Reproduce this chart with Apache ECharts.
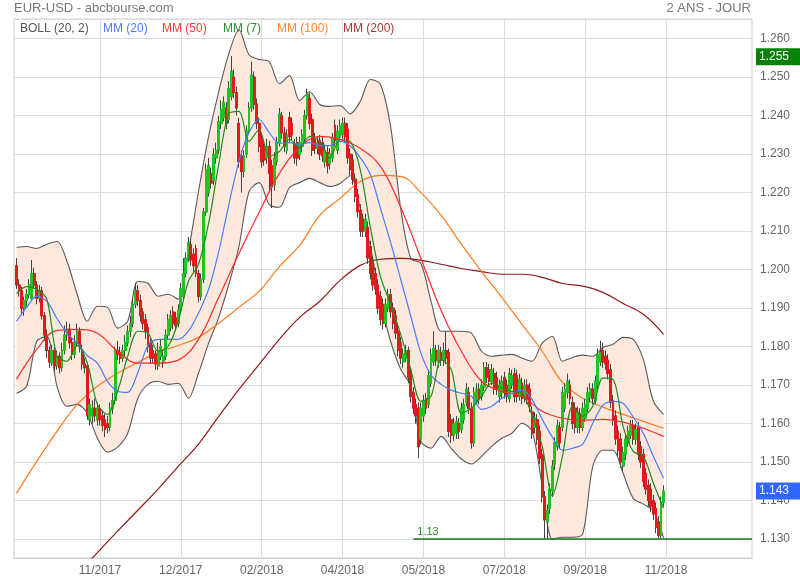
<!DOCTYPE html>
<html><head><meta charset="utf-8">
<script src="https://cdn.jsdelivr.net/npm/echarts@6/dist/echarts.min.js"></script>
<style>html,body{margin:0;padding:0;background:#fff}#c{width:800px;height:580px}</style>
</head><body><div id="c"></div>
<script>
// ---------- DATA ----------
const tickIdx = [34, 66, 98, 130, 162, 194, 226, 258];
const tickLabels = ['11/2017', '12/2017', '02/2018', '04/2018', '05/2018', '07/2018', '09/2018', '11/2018'];
const nSlots = 293;
const candleOffset = 1;

// [open, close, low, high]
const candles = [
[1.2010,1.1960,1.1950,1.2030],[1.1960,1.1945,1.1930,1.1975],[1.1945,1.1900,1.1885,1.1955],[1.1900,1.1920,1.1880,1.1930],
[1.1920,1.1935,1.1905,1.1950],[1.1935,1.1960,1.1925,1.1975],[1.1925,1.1990,1.1920,1.2025],[1.1990,1.1960,1.1950,1.2005],
[1.1960,1.1925,1.1910,1.1970],[1.1925,1.1945,1.1915,1.1960],[1.1945,1.1880,1.1870,1.1955],[1.1880,1.1830,1.1815,1.1890],
[1.1830,1.1790,1.1770,1.1845],[1.1790,1.1760,1.1745,1.1800],[1.1760,1.1790,1.1750,1.1805],[1.1790,1.1750,1.1735,1.1800],
[1.1750,1.1775,1.1740,1.1790],[1.1775,1.1745,1.1730,1.1785],[1.1745,1.1790,1.1735,1.1810],[1.1790,1.1830,1.1780,1.1855],
[1.1830,1.1845,1.1815,1.1865],[1.1845,1.1810,1.1795,1.1860],[1.1810,1.1780,1.1765,1.1825],[1.1780,1.1810,1.1770,1.1830],
[1.1810,1.1840,1.1800,1.1860],[1.1840,1.1800,1.1785,1.1850],[1.1790,1.1755,1.1740,1.1805],[1.1755,1.1745,1.1730,1.1770],
[1.1750,1.1620,1.1610,1.1760],[1.1610,1.1650,1.1595,1.1665],[1.1620,1.1640,1.1600,1.1660],[1.1640,1.1620,1.1605,1.1665],
[1.1610,1.1640,1.1595,1.1655],[1.1640,1.1610,1.1595,1.1650],[1.1620,1.1595,1.1580,1.1635],[1.1610,1.1585,1.1565,1.1625],
[1.1600,1.1590,1.1575,1.1620],[1.1590,1.1640,1.1580,1.1655],[1.1640,1.1660,1.1625,1.1680],[1.1660,1.1790,1.1650,1.1800],
[1.1790,1.1780,1.1765,1.1815],[1.1785,1.1770,1.1755,1.1800],[1.1770,1.1790,1.1760,1.1805],[1.1790,1.1810,1.1775,1.1830],
[1.1810,1.1840,1.1800,1.1855],[1.1840,1.1860,1.1825,1.1880],[1.1860,1.1910,1.1850,1.1925],[1.1910,1.1945,1.1900,1.1965],
[1.1945,1.1920,1.1905,1.1960],[1.1920,1.1880,1.1865,1.1935],[1.1890,1.1860,1.1845,1.1900],[1.1870,1.1840,1.1820,1.1885],
[1.1850,1.1800,1.1785,1.1860],[1.1810,1.1770,1.1755,1.1820],[1.1790,1.1770,1.1755,1.1805],[1.1780,1.1755,1.1740,1.1790],
[1.1750,1.1790,1.1740,1.1810],[1.1775,1.1800,1.1765,1.1820],[1.1760,1.1775,1.1745,1.1790],[1.1775,1.1830,1.1765,1.1845],
[1.1830,1.1870,1.1820,1.1885],[1.1850,1.1880,1.1840,1.1895],[1.1890,1.1860,1.1845,1.1905],[1.1875,1.1855,1.1840,1.1890],
[1.1860,1.1895,1.1850,1.1910],[1.1895,1.1950,1.1885,1.1965],[1.1930,1.1990,1.1920,1.2030],[1.1990,1.2030,1.1980,1.2045],
[1.2030,1.2070,1.2020,1.2085],[1.2065,1.2025,1.2010,1.2080],[1.2040,1.2010,1.1995,1.2055],[1.2055,1.1990,1.1980,1.2065],
[1.1990,1.1930,1.1915,1.2000],[1.1930,1.1975,1.1920,1.1990],[1.1975,1.2150,1.1965,1.2160],[1.2150,1.2260,1.2140,1.2275],
[1.2200,1.2270,1.2190,1.2290],[1.2250,1.2225,1.2210,1.2265],[1.2230,1.2300,1.2220,1.2315],[1.2290,1.2310,1.2275,1.2330],
[1.2310,1.2385,1.2300,1.2400],[1.2380,1.2415,1.2365,1.2440],[1.2395,1.2435,1.2385,1.2450],[1.2420,1.2380,1.2365,1.2435],
[1.2390,1.2470,1.2380,1.2490],[1.2450,1.2515,1.2440,1.2555],[1.2500,1.2460,1.2445,1.2520],[1.2460,1.2420,1.2400,1.2475],
[1.2380,1.2280,1.2265,1.2395],[1.2295,1.2255,1.2200,1.2310],[1.2255,1.2295,1.2240,1.2310],[1.2300,1.2360,1.2290,1.2375],
[1.2360,1.2420,1.2350,1.2435],[1.2420,1.2505,1.2410,1.2540],[1.2500,1.2430,1.2415,1.2515],[1.2430,1.2380,1.2365,1.2445],
[1.2380,1.2320,1.2305,1.2395],[1.2340,1.2280,1.2265,1.2355],[1.2320,1.2285,1.2270,1.2335],[1.2290,1.2320,1.2275,1.2340],
[1.2320,1.2250,1.2200,1.2335],[1.2270,1.2215,1.2160,1.2285],[1.2220,1.2290,1.2205,1.2305],[1.2280,1.2330,1.2270,1.2345],
[1.2330,1.2405,1.2320,1.2420],[1.2400,1.2355,1.2340,1.2410],[1.2355,1.2320,1.2305,1.2370],[1.2310,1.2350,1.2300,1.2365],
[1.2395,1.2345,1.2330,1.2410],[1.2380,1.2350,1.2335,1.2395],[1.2325,1.2290,1.2275,1.2340],[1.2330,1.2290,1.2270,1.2345],
[1.2300,1.2330,1.2285,1.2345],[1.2320,1.2350,1.2305,1.2365],[1.2340,1.2400,1.2330,1.2415],[1.2400,1.2455,1.2390,1.2470],
[1.2445,1.2380,1.2365,1.2460],[1.2390,1.2310,1.2295,1.2405],[1.2340,1.2315,1.2300,1.2355],[1.2315,1.2330,1.2300,1.2345],
[1.2335,1.2300,1.2285,1.2350],[1.2330,1.2295,1.2280,1.2345],[1.2280,1.2310,1.2265,1.2325],[1.2305,1.2270,1.2250,1.2320],
[1.2275,1.2300,1.2260,1.2315],[1.2290,1.2340,1.2280,1.2355],[1.2375,1.2335,1.2320,1.2390],[1.2310,1.2360,1.2300,1.2375],
[1.2345,1.2375,1.2335,1.2390],[1.2350,1.2380,1.2340,1.2395],[1.2380,1.2345,1.2330,1.2395],[1.2365,1.2290,1.2275,1.2380],
[1.2300,1.2260,1.2245,1.2315],[1.2285,1.2235,1.2220,1.2300],[1.2235,1.2190,1.2175,1.2250],[1.2195,1.2150,1.2135,1.2210],
[1.2155,1.2100,1.2085,1.2170],[1.2130,1.2100,1.2085,1.2145],[1.2100,1.2130,1.2085,1.2145],[1.2110,1.2030,1.2015,1.2125],
[1.2060,1.1990,1.1975,1.2075],[1.2020,1.1960,1.1945,1.2035],[1.1990,1.1950,1.1935,1.2005],[1.1960,1.1900,1.1885,1.1975],
[1.1930,1.1870,1.1855,1.1945],[1.1910,1.1860,1.1845,1.1925],[1.1860,1.1910,1.1850,1.1925],[1.1900,1.1935,1.1890,1.1950],
[1.1935,1.1890,1.1875,1.1950],[1.1900,1.1860,1.1845,1.1915],[1.1880,1.1835,1.1820,1.1895],[1.1840,1.1790,1.1775,1.1855],
[1.1810,1.1770,1.1755,1.1825],[1.1760,1.1780,1.1745,1.1795],[1.1770,1.1790,1.1760,1.1805],[1.1790,1.1720,1.1705,1.1800],
[1.1730,1.1670,1.1655,1.1745],[1.1680,1.1640,1.1625,1.1695],[1.1650,1.1620,1.1600,1.1665],[1.1640,1.1540,1.1510,1.1655],
[1.1560,1.1640,1.1545,1.1655],[1.1620,1.1660,1.1605,1.1675],[1.1665,1.1640,1.1625,1.1680],[1.1650,1.1725,1.1640,1.1740],
[1.1705,1.1780,1.1695,1.1795],[1.1760,1.1795,1.1750,1.1840],[1.1790,1.1765,1.1750,1.1805],[1.1760,1.1790,1.1745,1.1805],
[1.1785,1.1765,1.1750,1.1800],[1.1765,1.1790,1.1750,1.1810],[1.1790,1.1770,1.1755,1.1840],[1.1785,1.1580,1.1565,1.1795],
[1.1610,1.1570,1.1550,1.1625],[1.1570,1.1600,1.1555,1.1615],[1.1575,1.1605,1.1560,1.1620],[1.1600,1.1580,1.1560,1.1615],
[1.1585,1.1640,1.1575,1.1655],[1.1610,1.1650,1.1600,1.1665],[1.1655,1.1690,1.1645,1.1705],[1.1680,1.1640,1.1625,1.1695],
[1.1640,1.1550,1.1535,1.1655],[1.1550,1.1680,1.1540,1.1695],[1.1660,1.1690,1.1650,1.1705],[1.1690,1.1665,1.1650,1.1705],
[1.1670,1.1700,1.1660,1.1715],[1.1695,1.1745,1.1685,1.1760],[1.1745,1.1720,1.1705,1.1760],[1.1740,1.1710,1.1695,1.1755],
[1.1710,1.1740,1.1700,1.1755],[1.1730,1.1690,1.1675,1.1745],[1.1720,1.1690,1.1675,1.1735],[1.1670,1.1700,1.1655,1.1715],
[1.1680,1.1710,1.1665,1.1725],[1.1720,1.1680,1.1665,1.1735],[1.1700,1.1670,1.1655,1.1715],[1.1665,1.1730,1.1655,1.1745],
[1.1700,1.1725,1.1690,1.1740],[1.1730,1.1670,1.1655,1.1745],[1.1725,1.1670,1.1655,1.1740],[1.1670,1.1715,1.1660,1.1730],
[1.1705,1.1665,1.1650,1.1720],[1.1665,1.1700,1.1655,1.1715],[1.1700,1.1665,1.1650,1.1715],[1.1690,1.1645,1.1630,1.1705],
[1.1630,1.1575,1.1560,1.1645],[1.1590,1.1615,1.1575,1.1630],[1.1610,1.1560,1.1545,1.1625],[1.1580,1.1510,1.1495,1.1595],
[1.1520,1.1410,1.1395,1.1535],[1.1410,1.1350,1.1300,1.1425],[1.1345,1.1375,1.1300,1.1390],[1.1380,1.1430,1.1365,1.1445],
[1.1425,1.1490,1.1410,1.1505],[1.1495,1.1550,1.1480,1.1565],[1.1540,1.1595,1.1530,1.1610],[1.1590,1.1550,1.1535,1.1605],
[1.1590,1.1680,1.1580,1.1695],[1.1640,1.1690,1.1630,1.1705],[1.1680,1.1710,1.1665,1.1730],[1.1700,1.1665,1.1650,1.1715],
[1.1655,1.1600,1.1585,1.1670],[1.1640,1.1590,1.1575,1.1655],[1.1590,1.1630,1.1575,1.1645],[1.1625,1.1590,1.1575,1.1640],
[1.1590,1.1640,1.1580,1.1655],[1.1615,1.1650,1.1605,1.1665],[1.1640,1.1680,1.1630,1.1695],[1.1670,1.1690,1.1655,1.1705],
[1.1690,1.1665,1.1650,1.1705],[1.1660,1.1710,1.1650,1.1725],[1.1700,1.1780,1.1690,1.1795],[1.1760,1.1785,1.1750,1.1815],
[1.1790,1.1760,1.1745,1.1810],[1.1775,1.1755,1.1740,1.1790],[1.1765,1.1730,1.1715,1.1780],[1.1740,1.1655,1.1640,1.1755],
[1.1660,1.1610,1.1595,1.1675],[1.1620,1.1560,1.1545,1.1635],[1.1580,1.1530,1.1515,1.1595],[1.1560,1.1500,1.1485,1.1575],
[1.1490,1.1525,1.1475,1.1540],[1.1520,1.1560,1.1505,1.1575],[1.1550,1.1580,1.1540,1.1595],[1.1570,1.1595,1.1560,1.1610],
[1.1595,1.1560,1.1545,1.1610],[1.1560,1.1585,1.1545,1.1600],[1.1590,1.1520,1.1505,1.1605],[1.1540,1.1500,1.1485,1.1555],
[1.1520,1.1450,1.1435,1.1535],[1.1470,1.1430,1.1415,1.1485],[1.1440,1.1400,1.1385,1.1455],[1.1430,1.1385,1.1370,1.1445],
[1.1400,1.1365,1.1350,1.1415],[1.1380,1.1330,1.1315,1.1395],[1.1345,1.1310,1.1302,1.1360],[1.1310,1.1395,1.1302,1.1410],
[1.1395,1.1425,1.1385,1.1440]
];

// indicator lines, sampled every 4 candles (step 4) or every 8 candles (step 8)
const ma7 = [1.1938,1.1956,1.1949,1.1923,1.1775,1.1762,1.1803,1.1757,1.1650,1.1624,
1.1684,1.1775,1.1840,1.1835,1.1788,1.1801,1.1866,1.1969,1.2014,1.2120,
1.2273,1.2405,1.2411,1.2333,1.2364,1.2294,1.2307,1.2338,1.2317,1.2346,
1.2333,1.2289,1.2338,1.2333,1.2260,1.2110,1.1982,1.1910,1.1832,1.1741,
1.1658,1.1671,1.1767,1.1741,1.1627,1.1640,1.1671,1.1705,1.1692,1.1684,
1.1679,1.1622,1.1541,1.1412,1.1515,1.1645,1.1619,1.1645,1.1718,1.1715,
1.1593,1.1528,1.1515,1.1445,1.1380];
const ma20 = [1.1866,1.1902,1.1931,1.1918,1.1873,1.1835,1.1809,1.1777,1.1757,1.1710,
1.1684,1.1681,1.1733,1.1803,1.1819,1.1819,1.1819,1.1840,1.1887,1.1949,
1.2047,1.2169,1.2281,1.2356,1.2390,1.2356,1.2328,1.2330,1.2325,1.2330,
1.2322,1.2322,1.2333,1.2322,1.2291,1.2247,1.2159,1.2071,1.1975,1.1879,
1.1783,1.1726,1.1702,1.1687,1.1679,1.1671,1.1637,1.1645,1.1666,1.1679,
1.1687,1.1663,1.1611,1.1565,1.1531,1.1536,1.1547,1.1601,1.1648,1.1658,
1.1653,1.1617,1.1575,1.1515,1.1458];
const bollUp = [1.2058,1.2060,1.2055,1.2066,1.2073,1.2021,1.1936,1.1866,1.1905,1.1902,
1.1848,1.1866,1.1969,1.1964,1.1931,1.1936,1.1923,1.2047,1.2203,1.2346,
1.2462,1.2561,1.2623,1.2558,1.2546,1.2540,1.2483,1.2504,1.2439,1.2462,
1.2429,1.2424,1.2426,1.2405,1.2437,1.2494,1.2481,1.2372,1.2159,1.2029,
1.2016,1.1918,1.1840,1.1840,1.1840,1.1835,1.1788,1.1775,1.1778,1.1780,
1.1770,1.1762,1.1809,1.1827,1.1762,1.1772,1.1778,1.1775,1.1798,1.1806,
1.1824,1.1819,1.1767,1.1658,1.1624];
const bollLow = [1.1679,1.1697,1.1814,1.1827,1.1697,1.1645,1.1650,1.1627,1.1562,1.1526,
1.1539,1.1575,1.1666,1.1702,1.1710,1.1702,1.1705,1.1666,1.1731,1.1809,
1.1876,1.1962,1.2060,1.2203,1.2226,1.2169,1.2162,1.2213,1.2226,1.2237,
1.2226,1.2216,1.2224,1.2244,1.2159,1.2060,1.1918,1.1814,1.1741,1.1697,
1.1554,1.1536,1.1567,1.1536,1.1508,1.1495,1.1515,1.1541,1.1562,1.1575,
1.1601,1.1580,1.1438,1.1300,1.1305,1.1305,1.1313,1.1489,1.1531,1.1531,
1.1471,1.1406,1.1391,1.1373,1.1303];
const ma50 = [1.1715,1.1793,1.1842,1.1845,1.1835,1.1788,1.1757,1.1757,1.1765,1.1819,
1.1928,1.2042,1.2149,1.2250,1.2317,1.2346,1.2338,1.2315,1.2268,1.2162,
1.2029,1.1894,1.1788,1.1710,1.1684,1.1671,1.1632,1.1614,1.1609,1.1611,
1.1604,1.1588,1.1567];
const ma100 = [1.1419,1.1502,1.1580,1.1650,1.1697,1.1731,1.1759,1.1785,1.1803,1.1824,
1.1861,1.1902,1.1944,1.2008,1.2063,1.2141,1.2185,1.2229,1.2245,1.2242,
1.2200,1.2141,1.2066,1.1995,1.1928,1.1858,1.1788,1.1707,1.1666,1.1643,
1.1624,1.1606,1.1588];
const ma200 = [null,null,null,1.1209,1.1265,1.1321,1.1375,1.1430,1.1489,1.1547,
1.1619,1.1689,1.1754,1.1819,1.1876,1.1918,1.1972,1.2011,1.2027,1.2029,
1.2024,1.2014,1.2003,1.1995,1.1988,1.1988,1.1980,1.1964,1.1957,1.1941,
1.1912,1.1884,1.1832];

const supportLevel = 1.13;
const supportStart = 158;
const highMark = 1.2553;
const lastMark = 1.1425;

// ---------- BUILD ----------
const categories = Array.from({length: nSlots}, (_, i) => {
  const k = tickIdx.indexOf(i);
  return k >= 0 ? tickLabels[k] : String(i);
});
const isTick = (i) => tickIdx.indexOf(i) >= 0;
function spread(arr, step) {
  const out = [];
  arr.forEach((v, k) => { if (v != null) out.push([k * step + candleOffset, v]); });
  return out;
}
const wickData = candles.map((c, i) => [i + candleOffset, c[0], c[1], c[2], c[3]]);
const bodyData = candles.map((c, i) => [i + candleOffset, c[0], c[1], Math.min(c[0], c[1]), Math.max(c[0], c[1])]);
const bandDiff = bollUp.map((u, k) => +(u - bollLow[k]).toFixed(5));

const FONT = '"Liberation Sans", Arial, sans-serif';
const UP = '#1fc41f', DOWN = '#e01b1b';

function lineSeries(name, data, color, z, smooth, width) {
  return {
    name, type: 'line', data, showSymbol: false, symbol: 'none', smooth: smooth,
    lineStyle: {color, width: width || 1.2}, z, silent: true, animation: false
  };
}

const option = {
  animation: false,
  backgroundColor: '#fff',
  grid: {left: 14, right: 48, top: 19, bottom: 22, show: true, borderColor: '#cfcfcf', borderWidth: 1, containLabel: false},
  xAxis: {
    type: 'category', data: categories, boundaryGap: false,
    axisLine: {show: true, lineStyle: {color: '#cfcfcf'}},
    axisTick: {show: false},
    axisLabel: {interval: (i) => isTick(i), color: '#666', fontSize: 12, fontFamily: FONT, margin: 7},
    splitLine: {show: true, interval: (i) => isTick(i), lineStyle: {color: '#dcdcdc', width: 1}}
  },
  yAxis: {
    type: 'value', position: 'right', min: 1.1251, max: 1.2651,
    splitNumber: 14, minInterval: 0.01, maxInterval: 0.01, scale: true,
    axisLine: {show: false}, axisTick: {show: false},
    axisLabel: {color: '#666', fontSize: 12, fontFamily: FONT, margin: 8, padding: [0, 0, 6, 0],
      showMinLabel: false, showMaxLabel: false, formatter: (v) => v.toFixed(3)},
    splitLine: {show: true, lineStyle: {color: '#dcdcdc', width: 1}}
  },
  graphic: [
    {type: 'text', z: 100, style: {text: 'EUR-USD - abcbourse.com', x: 14, y: 8, fill: '#777', font: '13px ' + FONT, verticalAlign: 'middle'}},
    {type: 'text', z: 100, style: {text: '2 ANS - JOUR', x: 751, y: 8, fill: '#777', font: '13px ' + FONT, verticalAlign: 'middle', align: 'right'}},
    {type: 'text', z: 100, style: {text: 'BOLL (20, 2)', x: 20, y: 28.5, fill: '#555', font: '12px ' + FONT, verticalAlign: 'middle'}},
    {type: 'text', z: 100, style: {text: 'MM (20)', x: 103, y: 28.5, fill: '#4a7cff', font: '12px ' + FONT, verticalAlign: 'middle'}},
    {type: 'text', z: 100, style: {text: 'MM (50)', x: 162, y: 28.5, fill: '#ff3a3a', font: '12px ' + FONT, verticalAlign: 'middle'}},
    {type: 'text', z: 100, style: {text: 'MM (7)', x: 223, y: 28.5, fill: '#2b8f2b', font: '12px ' + FONT, verticalAlign: 'middle'}},
    {type: 'text', z: 100, style: {text: 'MM (100)', x: 277, y: 28.5, fill: '#ff8533', font: '12px ' + FONT, verticalAlign: 'middle'}},
    {type: 'text', z: 100, style: {text: 'MM (200)', x: 343, y: 28.5, fill: '#a33a3a', font: '12px ' + FONT, verticalAlign: 'middle'}}
  ],
  series: [
    {name: 'bandBase', type: 'line', stack: 'boll', data: spread(bollLow, 4), smooth: 0.3, symbol: 'none',
      lineStyle: {opacity: 0}, z: 1, silent: true},
    {name: 'bandFill', type: 'line', stack: 'boll', data: spread(bandDiff, 4), smooth: 0.3, symbol: 'none',
      lineStyle: {opacity: 0}, areaStyle: {color: '#fde8dd', opacity: 1}, z: 1, silent: true},
    lineSeries('BOLL up', spread(bollUp, 4), '#5a5a5a', 2, 0.3, 1.1),
    lineSeries('BOLL low', spread(bollLow, 4), '#5a5a5a', 2, 0.3, 1.1),
    lineSeries('MM (200)', spread(ma200, 8), '#8e1b1b', 3, 0.4),
    lineSeries('MM (100)', spread(ma100, 8), '#ff7a1f', 3, 0.4),
    {name: 'wicks', type: 'candlestick', data: wickData, encode: {x: 0, y: [1, 2, 3, 4]}, barWidth: 2.4, z: 4, silent: true,
      itemStyle: {color: UP, color0: DOWN, borderColor: '#444', borderColor0: '#444', borderWidth: 1}},
    {name: 'bodies', type: 'candlestick', data: bodyData, encode: {x: 0, y: [1, 2, 3, 4]}, barWidth: 2.4, z: 5, silent: true,
      itemStyle: {color: UP, color0: DOWN, borderColor: UP, borderColor0: DOWN, borderWidth: 1},
      markLine: {
        silent: true, symbol: 'none', animation: false, precision: 4,
        data: [
          [{coord: [supportStart, supportLevel], lineStyle: {color: '#137a13', width: 1.5, type: 'solid'},
            label: {show: true, formatter: '1.13', position: 'insideStartTop', color: '#2a8f2a', fontSize: 11, fontFamily: FONT, distance: [4, 2]}},
           {coord: [nSlots - 1, supportLevel]}]
        ]
      }},
    {name: 'marks', type: 'line', data: [], z: 20, silent: true,
      markLine: {
        silent: true, symbol: 'none', animation: false, precision: 4,
        lineStyle: {color: 'rgba(0,0,0,0)', width: 0},
        data: [
          {yAxis: highMark,
            label: {show: true, position: 'end', distance: 4, formatter: '1.255', color: '#fff', backgroundColor: '#078207',
              padding: [3, 20, 2, 3], fontSize: 12, fontFamily: FONT}},
          {yAxis: lastMark,
            label: {show: true, position: 'end', distance: 4, formatter: '1.143', color: '#fff', backgroundColor: '#3366ff',
              padding: [3, 20, 2, 3], fontSize: 12, fontFamily: FONT}}
        ]
      }},
    lineSeries('MM (50)', spread(ma50, 8), '#ff2a2a', 6, 0.4),
    lineSeries('MM (20)', spread(ma20, 4), '#4a7cff', 6, 0.3),
    lineSeries('MM (7)', spread(ma7, 4), '#1f8a1f', 7, 0.3)
  ]
};
const chart = echarts.init(document.getElementById('c'), null, {renderer: 'canvas'});
chart.setOption(option);
</script>
</body></html>
